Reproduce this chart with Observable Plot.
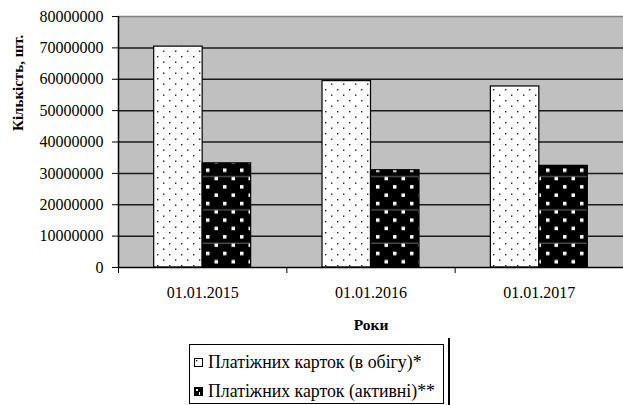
<!DOCTYPE html>
<html><head><meta charset="utf-8">
<script src="https://cdn.jsdelivr.net/npm/d3@7"></script>
<script src="https://cdn.jsdelivr.net/npm/@observablehq/plot@0.6"></script>
<style>
body{margin:0;background:#fff;font-family:'Liberation Serif';}
#wrap{position:relative;width:623px;height:405px;overflow:hidden;}
#legend{position:absolute;left:189px;top:344px;width:253px;height:58px;border:1px solid #000;background:#fff;font-family:'Liberation Serif';}
#legend .row{position:absolute;left:4px;height:22px;line-height:22px;font-size:17.8px;white-space:nowrap;display:flex;align-items:center;font-family:'Liberation Serif';}
#legend .row svg{margin-right:5px;}
#shadow{position:absolute;left:448px;top:338px;width:2px;height:70px;background:#000;}
svg text{font-family:'Liberation Serif';}
</style></head>
<body><div id="wrap"><div id="chart"></div>
<div id="legend"></div><div id="shadow"></div></div>
<script>
const categories = ["01.01.2015", "01.01.2016", "01.01.2017"];
const seriesNames = ["Платіжних карток (в обігу)*", "Платіжних карток (активні)**"];
const inCirculation = [70400000, 59400000, 57700000];
const active = [33200000, 31000000, 32400000];
const yTicks = [0, 10000000, 20000000, 30000000, 40000000, 50000000, 60000000, 70000000, 80000000];

const rows = categories.flatMap((c, i) => [
  {cat: c, i, s: 0, value: inCirculation[i]},
  {cat: c, i, s: 1, value: active[i]}
]);
const W = 0.288;
const FONT = "Liberation Serif";

const defs = () => {
  const d = d3.create("svg:defs");
  const p1 = d.append("pattern").attr("id", "dots").attr("patternUnits", "userSpaceOnUse")
    .attr("width", 12).attr("height", 11);
  p1.append("rect").attr("width", 12).attr("height", 11).attr("fill", "#fff");
  p1.append("rect").attr("x", 1).attr("y", 1).attr("width", 1.4).attr("height", 1.4).attr("fill", "#222");
  p1.append("rect").attr("x", 7).attr("y", 6.5).attr("width", 1.4).attr("height", 1.4).attr("fill", "#222");
  const p2 = d.append("pattern").attr("id", "sq").attr("patternUnits", "userSpaceOnUse")
    .attr("width", 17).attr("height", 33.3);
  p2.append("rect").attr("width", 17).attr("height", 33.3).attr("fill", "#000");
  [[2, 2], [10.5, 10.3], [2, 18.6], [10.5, 26.9]].forEach(([x, y]) =>
    p2.append("rect").attr("x", x).attr("y", y).attr("width", 3.5).attr("height", 3.5).attr("fill", "#fff"));
  p2.append("rect").attr("x", 0).attr("y", 9.6).attr("width", 17).attr("height", 0.8).attr("fill", "#888");
  return d.node();
};

const chart = Plot.plot({
  width: 623, height: 340,
  marginLeft: 118, marginRight: 0, marginTop: 16, marginBottom: 73,
  x: {domain: [0, 3], axis: null},
  y: {domain: [0, 80000000], axis: null},
  style: {fontFamily: FONT, fontSize: "16px", color: "#000", background: "transparent", overflow: "visible"},
  marks: [
    defs,
    Plot.frame({fill: "#c0c0c0", stroke: null}),
    Plot.ruleY(yTicks.filter(v => v > 0 && v < 80000000), {stroke: "#1a1a1a", strokeWidth: 1.5}),
    Plot.ruleY([80000000], {stroke: "#808080", strokeWidth: 1.5}),
    Plot.rectY(rows.filter(d => d.s === 0), {x1: d => d.i + 0.5 - W, x2: d => d.i + 0.5, y1: 0, y2: "value", fill: "url(#dots)", stroke: "#000", strokeWidth: 1.2}),
    Plot.rectY(rows.filter(d => d.s === 1), {x1: d => d.i + 0.5, x2: d => d.i + 0.5 + W, y1: 0, y2: "value", fill: "url(#sq)", stroke: "#000", strokeWidth: 1.2}),
    Plot.ruleX([0], {stroke: "#000", strokeWidth: 1.5}),
    Plot.ruleY([0], {stroke: "#000", strokeWidth: 1.5}),
    Plot.axisY({ticks: yTicks, tickSize: 6, tickPadding: 9, tickFormat: d => String(d), label: null, fontSize: 16, fontFamily: FONT}),
    Plot.axisX({ticks: [0, 1, 2, 3], tickSize: 6, tickFormat: () => "", label: null}),
    Plot.axisX({ticks: [0.5, 1.5, 2.5], tickSize: 0, tickPadding: 19, tickFormat: d => categories[Math.floor(d)], label: null, fontSize: 16, fontFamily: FONT}),
    Plot.text(["Роки"], {frameAnchor: "bottom", dy: 62, fontWeight: "bold", fontSize: 15.5, fontFamily: FONT}),
    Plot.text(["Кількість, шт."], {frameAnchor: "left", dx: -100, dy: -11, rotate: -90, fontWeight: "bold", fontSize: 15, fontFamily: FONT})
  ]
});
document.getElementById("chart").appendChild(chart);

const legend = document.getElementById("legend");
const sym = [
  '<svg width="9" height="9"><rect x="0.5" y="0.5" width="8" height="8" fill="#fff" stroke="#000"/><rect x="2" y="2" width="1.3" height="1.3" fill="#000"/></svg>',
  '<svg width="9" height="9"><rect x="0" y="0" width="9" height="9" fill="#000"/><rect x="2" y="2" width="2" height="2" fill="#fff"/><rect x="5" y="5" width="1" height="3" fill="#fff"/></svg>'
];
seriesNames.forEach((name, k) => {
  const r = document.createElement("div");
  r.className = "row";
  r.style.top = (k === 0 ? 6 : 35) + "px";
  r.innerHTML = sym[k] + "<span>" + name + "</span>";
  legend.appendChild(r);
});
</script>
</body></html>
